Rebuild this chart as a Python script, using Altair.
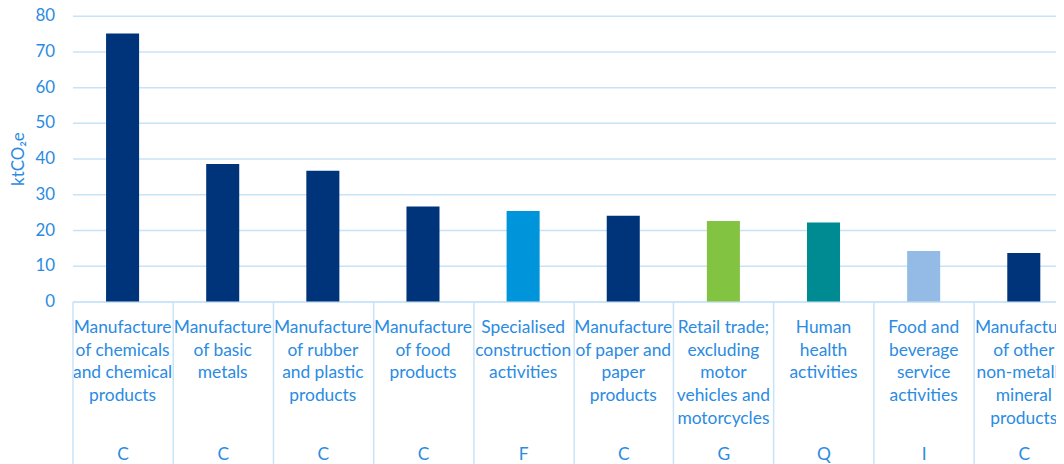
import altair as alt
import pandas as pd

categories = [
    "Manufacture|of chemicals|and chemical|products",
    "Manufacture|of basic|metals",
    "Manufacture|of rubber|and plastic|products",
    "Manufacture|of food|products",
    "Specialised|construction|activities",
    "Manufacture|of paper and|paper|products",
    "Retail trade;|excluding|motor|vehicles and|motorcycles",
    "Human|health|activities",
    "Food and|beverage|service|activities",
    "Manufacture|of other|non-metallic|mineral|products",
]
codes = ["C", "C", "C", "C", "F", "C", "G", "Q", "I", "C"]
values = [75.0, 38.5, 36.6, 26.6, 25.3, 24.0, 22.5, 22.1, 14.1, 13.6]
colors = ["#00347A", "#00347A", "#00347A", "#00347A", "#0095DA",
          "#00347A", "#82C341", "#008B92", "#93BBE6", "#00347A"]

df = pd.DataFrame({
    "key": [c + "#" + k for c, k in zip(categories, codes)],
    "value": values,
    "color": colors,
})

TEXT = "#2B8BE2"
GRID = "#C8E3F8"
FONT = "Lato"

xscale = alt.Scale(paddingInner=0, paddingOuter=0, round=False)
yscale = alt.Scale(domain=[0, 80])

names_axis = alt.Axis(
    title=None, labelAngle=0, ticks=False, grid=False,
    domain=True, domainColor=GRID, domainWidth=1.5,
    labelExpr="split(split(datum.value, '#')[0], '|')",
    labelFont=FONT, labelFontSize=17.5, labelColor=TEXT,
    labelLineHeight=23, labelPadding=17, labelBaseline="top",
    labelLimit=300, labelOverlap=False,
)

codes_axis = alt.Axis(
    title=None, orient="bottom", labelAngle=0, grid=False, domain=False,
    ticks=True, tickBand="extent", tickSize=170, tickColor=GRID, tickWidth=1.5,
    labelExpr="split(datum.value, '#')[1]",
    labelFont=FONT, labelFontSize=17.5, labelColor=TEXT,
    labelPadding=-25, labelBaseline="top", labelOverlap=False,
)

y_axis = alt.Axis(
    title="ktCO₂e", values=[0, 10, 20, 30, 40, 50, 60, 70, 80],
    domain=False, ticks=False, grid=True, gridColor=GRID, gridWidth=1.5,
    labelFont=FONT, labelFontSize=17, labelColor=TEXT, labelPadding=18,
    labelOverlap=False,
    titleFont=FONT, titleFontSize=17, titleColor=TEXT, titleFontWeight="normal",
    titlePadding=8,
)

bars = alt.Chart(df).mark_bar(width=alt.RelativeBandSize(0.33)).encode(
    x=alt.X("key:N", sort=None, scale=xscale, axis=names_axis),
    y=alt.Y("value:Q", scale=yscale, axis=y_axis),
    color=alt.Color("color:N", scale=None),
)

codes_layer = alt.Chart(df).mark_point(opacity=0).encode(
    x=alt.X("key:N", sort=None, scale=xscale, axis=codes_axis),
    y=alt.value(0),
)

chart = alt.layer(bars, codes_layer).resolve_axis(x="independent").properties(
    width=1009, height=288,
    autosize=alt.AutoSizeParams(type="none"),
    padding={"left": 65, "top": 6, "right": -18, "bottom": 162},
).configure_view(strokeWidth=0)

chart.save("out.html", embed_options={"renderer": "svg", "actions": False})
